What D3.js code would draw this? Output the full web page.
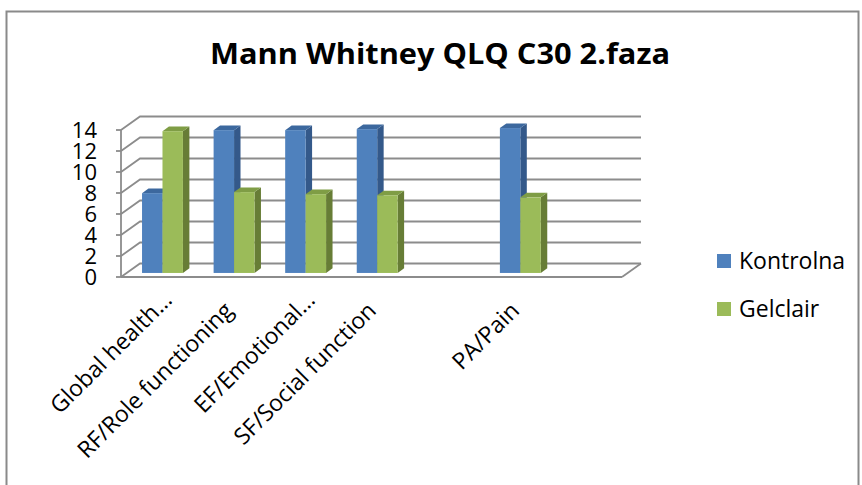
<!DOCTYPE html>
<html>
<head>
<meta charset="utf-8">
<script src="https://cdn.jsdelivr.net/npm/d3@7"></script>
<style>
   body { margin: 0; background: #fff; }
   text { font-family: "Open Sans", "Liberation Sans", sans-serif; fill: #000; }
</style>
</head>
<body>
<script>
// chart values
var categories = ["Global health…", "RF/Role functioning", "EF/Emotional…", "SF/Social function", "", "PA/Pain", ""];
var kontrolna = [7.6, 13.6, 13.6, 13.7, null, 13.8, null];
var gelclair = [13.5, 7.7, 7.5, 7.4, null, 7.2, null];
var yTicks = [0, 2, 4, 6, 8, 10, 12, 14];
var seriesNames = ["Kontrolna", "Gelclair"];
var titleText = "Mann Whitney QLQ C30 2.faza";

var width = 862, height = 485;
var depthX = 19, depthY = 13.5;   // oblique offset of the back wall
var barZ0 = 0.3, barZ1 = 0.64;    // bar depth, as fraction of floor depth
var frontCol = ["#4f81bd", "#9bbb59"];
var topCol = ["#3c689e", "#7f9d45"];
var sideCol = ["#34598a", "#677d36"];
var gridCol = "#8c8c8c";

var svg = d3.select("body")
   .append("svg")
   .attr("width", width)
   .attr("height", height);

// outer border
svg.append("rect")
   .attr("x", 6.5)
   .attr("y", 11.5)
   .attr("width", 852)
   .attr("height", 490)
   .style("fill", "none")
   .style("stroke", "#8a8a8a")
   .style("stroke-width", 2);

svg.append("text")
   .attr("x", 440)
   .attr("y", 64)
   .attr("text-anchor", "middle")
   .style("font-size", "28px")
   .style("font-weight", "bold")
   .attr("textLength", 460)
   .attr("lengthAdjust", "spacingAndGlyphs")
   .text(titleText);

var x = d3.scaleBand()
   .domain(d3.range(categories.length))
   .range([121, 622]);
var y = d3.scaleLinear()
   .domain([0, 14])
   .range([277, 130]);

// project (front x, value, depth) to screen
function px(xf, z) { return xf + z * depthX; }
function py(v, z) { return y(v) - z * depthY; }

var walls = svg.append("g");
var x0 = x.range()[0], x1 = x.range()[1];

// side wall + back wall gridlines
yTicks.forEach(function (t) {
   walls.append("path")
      .attr("d", "M" + x0 + "," + py(t, 0) + "L" + px(x0, 1) + "," + py(t, 1) + "L" + px(x1, 1) + "," + py(t, 1))
      .style("fill", "none")
      .style("stroke", gridCol)
      .style("stroke-width", 1.8);
});
// floor right edge
walls.append("path")
   .attr("d", "M" + x1 + "," + py(0, 0) + "L" + px(x1, 1) + "," + py(0, 1))
   .style("fill", "none")
   .style("stroke", gridCol)
   .style("stroke-width", 1.8);

// value axis
var yAxis = svg.append("g");
yAxis.append("line")
   .attr("x1", x0).attr("x2", x0)
   .attr("y1", y(14)).attr("y2", y(0))
   .style("stroke", gridCol)
   .style("stroke-width", 1.8);
yAxis.selectAll(".tick")
   .data(yTicks)
   .enter()
   .append("line")
   .attr("x1", x0 - 5).attr("x2", x0)
   .attr("y1", function (d) { return y(d); })
   .attr("y2", function (d) { return y(d); })
   .style("stroke", gridCol)
   .style("stroke-width", 1.8);
yAxis.selectAll("text")
   .data(yTicks)
   .enter()
   .append("text")
   .attr("x", 97)
   .attr("y", function (d) { return y(d) + 8; })
   .attr("text-anchor", "end")
   .style("font-size", "22px")
   .text(function (d) { return d; });

// category axis (floor front edge)
svg.append("line")
   .attr("x1", x0).attr("x2", x1)
   .attr("y1", y(0)).attr("y2", y(0))
   .style("stroke", gridCol)
   .style("stroke-width", 1.8);

// bars
var barW = x.bandwidth() / 3.5;
var bars = svg.append("g");
categories.forEach(function (c, i) {
   [kontrolna, gelclair].forEach(function (series, s) {
      var v = series[i];
      if (v == null) { return; }
      var xl = x(i) + barW * 0.75 + s * barW;
      var xr = xl + barW;
      var g = bars.append("g");
      // right side face
      g.append("polygon")
         .attr("points", [[px(xr, barZ0), py(v, barZ0)], [px(xr, barZ1), py(v, barZ1)],
            [px(xr, barZ1), py(0, barZ1)], [px(xr, barZ0), py(0, barZ0)]].join(" "))
         .style("fill", sideCol[s]);
      // top face
      g.append("polygon")
         .attr("points", [[px(xl, barZ0), py(v, barZ0)], [px(xr, barZ0), py(v, barZ0)],
            [px(xr, barZ1), py(v, barZ1)], [px(xl, barZ1), py(v, barZ1)]].join(" "))
         .style("fill", topCol[s]);
      // front face
      g.append("rect")
         .attr("x", px(xl, barZ0))
         .attr("y", py(v, barZ0))
         .attr("width", barW)
         .attr("height", y(0) - y(v))
         .style("fill", frontCol[s]);
   });
});

// category labels, rotated
svg.selectAll(".cat")
   .data(categories)
   .enter()
   .append("text")
   .attr("class", "cat")
   .attr("transform", function (d, i) {
      var cx = x(i) + x.bandwidth() / 2 + 6;
      var cy = 312;
      // truncated labels sit further along their direction
      if (d.slice(-1) === "…") { cx += 10.6; cy -= 10.6; }
      return "translate(" + cx + "," + cy + ") rotate(-45)";
   })
   .attr("text-anchor", "end")
   .style("font-size", "23px")
   .text(function (d) { return d; });

// legend
var legend = svg.append("g");
seriesNames.forEach(function (name, s) {
   legend.append("rect")
      .attr("x", 717)
      .attr("y", 254 + s * 48)
      .attr("width", 14)
      .attr("height", 14)
      .style("fill", frontCol[s]);
   legend.append("text")
      .attr("x", 739)
      .attr("y", 269 + s * 48)
      .style("font-size", "23px")
      .text(name);
});
</script>
</body>
</html>
